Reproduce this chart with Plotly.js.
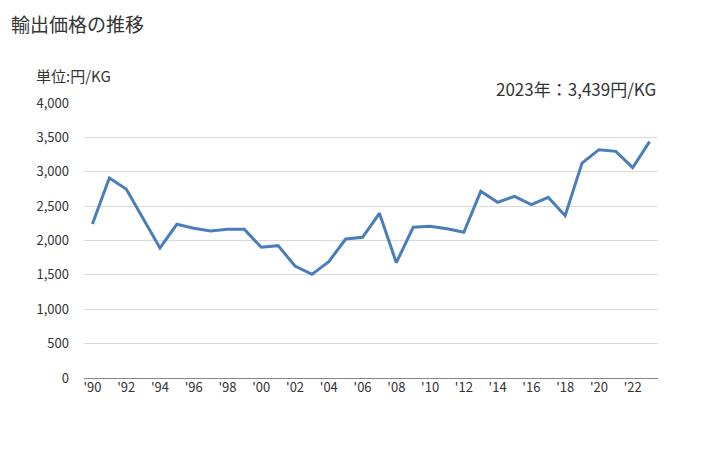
<!DOCTYPE html>
<html><head><meta charset="utf-8">
<script src="https://cdn.plot.ly/plotly-3.0.1.min.js"></script>
<style>html,body{margin:0;padding:0;background:#fff}#c{width:728px;height:450px}</style>
</head><body><div id="c"></div>
<script>
const years = [1990,1991,1992,1993,1994,1995,1996,1997,1998,1999,2000,2001,2002,2003,2004,2005,2006,2007,2008,2009,2010,2011,2012,2013,2014,2015,2016,2017,2018,2019,2020,2021,2022,2023];
const prices = [2240,2909,2749,2320,1891,2236,2178,2138,2162,2162,1901,1925,1629,1508,1692,2022,2046,2395,1678,2192,2206,2170,2119,2715,2555,2642,2521,2627,2361,3127,3321,3297,3059,3439];
const tickYears = [1990,1992,1994,1996,1998,2000,2002,2004,2006,2008,2010,2012,2014,2016,2018,2020,2022];
const tickLabels = ["'90","'92","'94","'96","'98","'00","'02","'04","'06","'08","'10","'12","'14","'16","'18","'20","'22"];
const yTicks = [0,500,1000,1500,2000,2500,3000,3500,4000];
const yLabels = ["0","500","1,000","1,500","2,000","2,500","3,000","3,500","4,000"];
const font = "'Noto Sans CJK JP', 'Noto Sans', sans-serif";
Plotly.newPlot('c', [{
  x: years, y: prices, type: 'scatter', mode: 'lines',
  line: {color: '#4a7ebb', width: 3}, hoverinfo: 'skip'
}], {
  width: 728, height: 450,
  margin: {l: 84, r: 70, t: 103, b: 72},
  paper_bgcolor: '#fff', plot_bgcolor: '#fff',
  showlegend: false,
  font: {family: font, size: 13, color: '#333'},
  xaxis: {range: [1989.5, 2023.5], tickvals: tickYears, ticktext: tickLabels, showgrid: false,
    zeroline: false, showline: false, ticks: '', tickfont: {size: 13, color: '#333'}},
  yaxis: {range: [0, 4000], tickvals: yTicks, ticktext: yLabels, showgrid: true, gridcolor: '#d9d9d9',
    gridwidth: 1, zeroline: true, zerolinecolor: '#888', zerolinewidth: 1, ticks: '', ticklabelstandoff: 14,
    tickfont: {size: 13, color: '#333'}},
  annotations: [
    {text: '輸出価格の推移', xref: 'paper', yref: 'paper', x: -0.1306, y: 1.2907, xanchor: 'left', yanchor: 'middle', showarrow: false, font: {size: 19, color: '#333', family: font}},
    {text: '単位:円/KG', xref: 'paper', yref: 'paper', x: -0.0871, y: 1.1, xanchor: 'left', yanchor: 'middle', showarrow: false, font: {size: 15, color: '#333', family: font}},
    {text: '2023年：3,439円/KG', xref: 'paper', yref: 'paper', x: 1, y: 1.0545, xanchor: 'right', yanchor: 'middle', showarrow: false, font: {size: 17, color: '#333', family: font}}
  ]
}, {displayModeBar: false, staticPlot: true});
</script></body></html>
